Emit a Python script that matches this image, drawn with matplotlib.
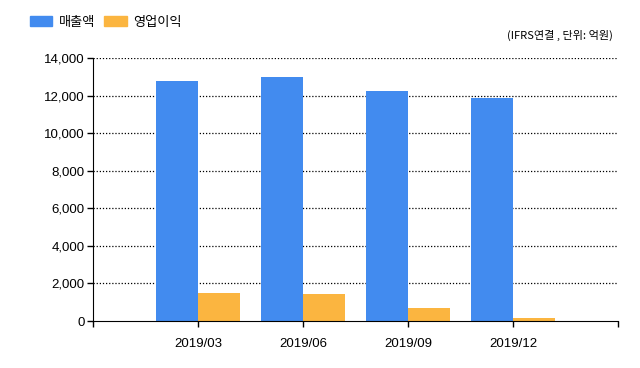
import numpy as np
import matplotlib
matplotlib.use('Agg')
import matplotlib.pyplot as plt
from matplotlib.patches import Patch

plt.rcParams['font.family'] = ['Liberation Sans', 'Noto Sans CJK KR', 'DejaVu Sans']

periods = ['2019/03', '2019/06', '2019/09', '2019/12']
sales = [12780, 12990, 12240, 11870]
op_income = [1490, 1440, 690, 160]
series_names = ['매출액', '영업이익']
colors = ['#428BEF', '#FBB540']

fig = plt.figure(figsize=(6.4, 3.68), dpi=100)
ax = fig.add_axes([0.1453, 0.1277, 0.8203, 0.7147])

x = np.arange(1, len(periods) + 1)
w = 0.4
ax.bar(x - w / 2, sales, w, color=colors[0], zorder=2)
ax.bar(x + w / 2, op_income, w, color=colors[1], zorder=2)

ax.set_xlim(0, len(periods) + 1)
ax.set_ylim(0, 14000)
ax.set_yticks(np.arange(0, 14001, 2000))
ax.set_yticklabels([f'{v:,}' for v in range(0, 14001, 2000)])
ax.set_xticks(np.arange(0, len(periods) + 2))
ax.set_xticklabels([''] + periods + [''])

for y in range(2000, 14001, 2000):
    ax.axhline(y, color='black', lw=0.9, ls=(0, (1, 1.5)), zorder=1)

ax.spines['top'].set_visible(False)
ax.spines['right'].set_visible(False)
ax.tick_params(axis='both', direction='out', length=4, width=1, labelsize=9.5, colors='black')
ax.tick_params(axis='y', pad=2)
ax.tick_params(axis='x', pad=8)

handles = [Patch(color=c) for c in colors]
fig.legend(handles, series_names, loc='upper left', bbox_to_anchor=(0.028, 0.99),
           ncol=2, frameon=False, handlelength=1.7, handleheight=0.7,
           columnspacing=0.7, handletextpad=0.5,
           prop={'family': ['Noto Sans CJK KR'], 'size': 9.5})

fig.text(0.958, 0.903, '(IFRS연결 , 단위: 억원)', ha='right', va='center', fontsize=8,
         family=['Noto Sans CJK KR'])

fig.savefig('out.png', dpi=100)
